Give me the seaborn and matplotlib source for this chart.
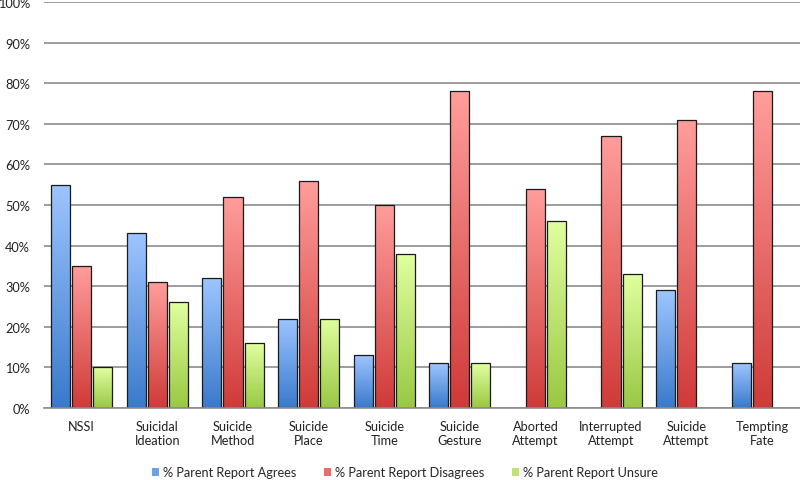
import numpy as np
import pandas as pd
import matplotlib
matplotlib.use("Agg")
import matplotlib.pyplot as plt
import matplotlib.colors as mcolors
from matplotlib.patches import Patch
import seaborn as sns

categories = ["NSSI", "Suicidal\nIdeation", "Suicide\nMethod", "Suicide\nPlace", "Suicide\nTime",
              "Suicide\nGesture", "Aborted\nAttempt", "Interrupted\nAttempt", "Suicide\nAttempt", "Tempting\nFate"]
series = ["% Parent Report Agrees", "% Parent Report Disagrees", "% Parent Report Unsure"]
agrees = [55, 43, 32, 22, 13, 11, 0, 0, 29, 11]
disagrees = [35, 31, 52, 56, 50, 78, 54, 67, 71, 78]
unsure = [10, 26, 16, 22, 38, 11, 46, 33, 0, 0]

grad = {
    series[0]: ("#9dc5ff", "#3a7acb"),
    series[1]: ("#ff9d9b", "#cf3b39"),
    series[2]: ("#e0ffa0", "#9ac843"),
}

rows = []
for s, vals in zip(series, [agrees, disagrees, unsure]):
    for c, v in zip(categories, vals):
        rows.append({"cat": c, "series": s, "val": v})
df = pd.DataFrame(rows)

sns.set_theme(style="white")
plt.rcParams['font.family'] = ['Lato', 'DejaVu Sans']

fig = plt.figure(figsize=(8, 4.81), dpi=100)
ax = fig.add_axes([0.055, 0.1497, 0.945, 0.8441])

mid = {s: mcolors.to_hex(np.mean([mcolors.to_rgb(a), mcolors.to_rgb(b)], axis=0)) for s, (a, b) in grad.items()}
sns.barplot(data=df, x="cat", y="val", hue="series", hue_order=series, palette=mid,
            width=0.84, gap=0.1, ax=ax, legend=False, edgecolor="#1a1a1a", linewidth=0.9)

ax.set_ylim(0, 100)
ax.set_xlim(-0.5, len(categories) - 0.5)

# gradients
for bars, s in zip(ax.containers, series):
    top, bot = grad[s]
    cmap = mcolors.LinearSegmentedColormap.from_list("g", [bot, top])
    for p in bars:
        h = p.get_height()
        if h <= 0:
            p.set_visible(False)
            continue
        x0 = p.get_x(); w = p.get_width()
        img = ax.imshow(np.linspace(0, 1, 100).reshape(-1, 1), extent=[x0, x0 + w, 0, h],
                        origin="lower", cmap=cmap, aspect="auto", zorder=p.get_zorder() + 0.1)
        img.set_clip_path(p)
        p.set_facecolor("none")
        p.set_zorder(p.get_zorder() + 0.2)
ax.set_aspect("auto")
ax.set_ylim(0, 100)
ax.set_xlim(-0.5, len(categories) - 0.5)

ax.set_yticks(np.arange(0, 101, 10))
ax.set_yticklabels([f"{v}%" for v in range(0, 101, 10)])
ax.yaxis.grid(True, color="#8c8c8c", linewidth=1.2)
ax.set_axisbelow(True)
for sp in ["left", "right", "top"]:
    ax.spines[sp].set_visible(False)
ax.spines["bottom"].set_color("#8c8c8c")
ax.spines["bottom"].set_linewidth(1.2)
ax.tick_params(axis="both", length=0, labelsize=9.2, colors="#222222")
ax.tick_params(axis="x", pad=9)
ax.tick_params(axis="y", pad=10)
for t in ax.get_yticklabels():
    t.set_horizontalalignment("right")
ax.set_xlabel("")
ax.set_ylabel("")

handles = [Patch(facecolor=mid[s], edgecolor="none") for s in series]
fig.legend(handles, series, loc="center", bbox_to_anchor=(0.506, 0.016), ncol=3, frameon=False,
           fontsize=9.2, handlelength=0.55, handleheight=0.55, handletextpad=0.3, columnspacing=2.2)

fig.savefig("out.png", dpi=100)
